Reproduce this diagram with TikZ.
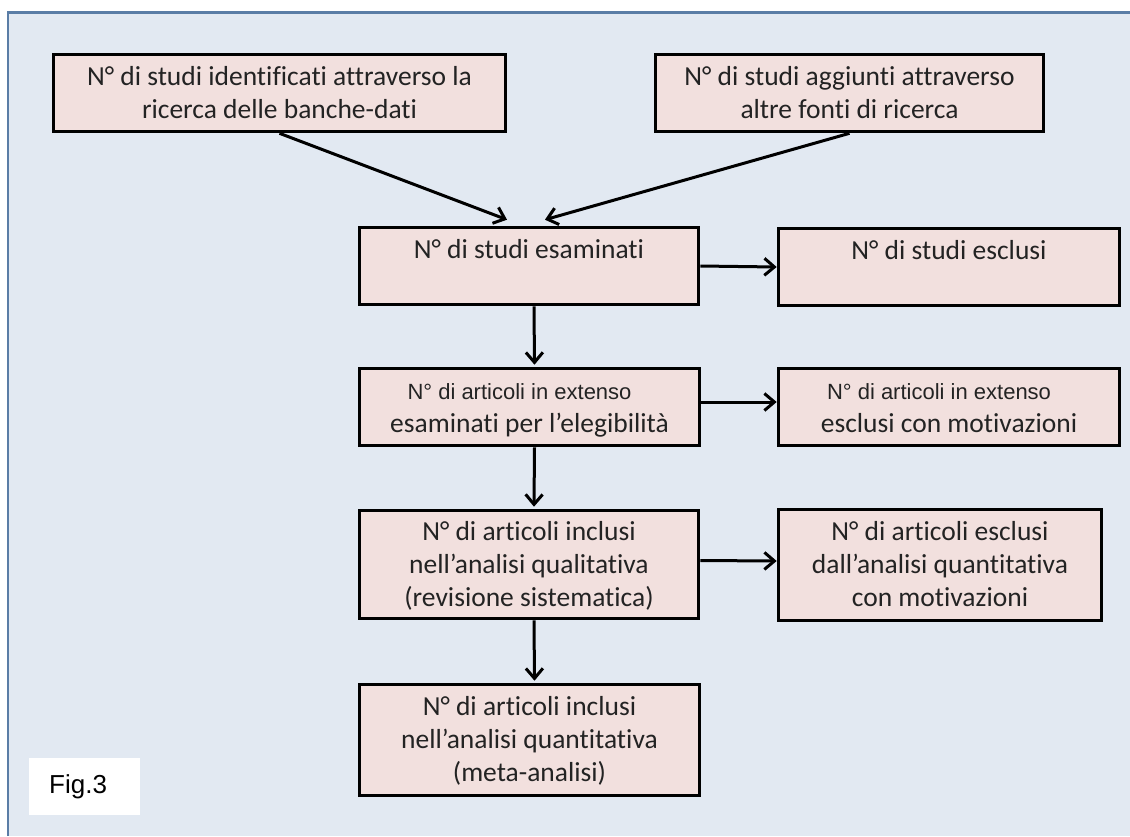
\documentclass[tikz,border=0pt]{standalone}
\usepackage{fontspec}
\setmainfont{Carlito}[Ligatures=NoCommon]
\newfontfamily\arialfont{Liberation Sans}
\usetikzlibrary{arrows.meta}
\definecolor{bgblue}{RGB}{226,233,242}
\definecolor{framecol}{RGB}{90,125,166}
\definecolor{boxfill}{RGB}{242,224,222}
\definecolor{txt}{RGB}{35,35,35}
\newcommand\mystrut{\rule[-8pt]{0pt}{33pt}}
\newcommand\arl[1]{{\arialfont\fontsize{22}{33}\selectfont #1}}
\tikzset{
  box/.style={draw=black, line width=3.6pt, fill=boxfill, inner sep=0pt,
    align=center, text=txt, font=\fontsize{27.5}{33}\selectfont},
  arr/.style={line width=3pt, -{Straight Barb[length=10pt,width=17pt]}},
}
\begin{document}
\begin{tikzpicture}[x=1pt,y=-1pt]
\useasboundingbox (0,0) rectangle (1130,836);
\fill[white] (0,0) rectangle (1130,836);
\fill[bgblue] (8,12) rectangle (1130,836);
\draw[framecol, line width=2.5pt] (8,836) -- (8,12.5) -- (1130,12.5);

\node[box, minimum width=452pt, minimum height=77pt] (b1) at (279.5,93)
  {\mystrut N° di studi identificati attraverso la\\\mystrut ricerca delle banche-dati};
\node[box, minimum width=388pt, minimum height=77pt] (b2) at (849.5,93)
  {\mystrut N° di studi aggiunti attraverso\\\mystrut altre fonti di ricerca};
\node[box, minimum width=339pt, minimum height=77pt] (b3) at (529,266)
  {\mystrut N° di studi esaminati\\\mystrut};
\node[box, minimum width=341pt, minimum height=77pt] (b4) at (949,267)
  {\mystrut N° di studi esclusi\\\mystrut};
\node[box, minimum width=340pt, minimum height=77pt] (b5) at (529.5,407)
  {\mystrut\arl{N° di articoli in extenso}\hspace*{20pt}\\\mystrut esaminati per l’elegibilità};
\node[box, minimum width=341pt, minimum height=77pt] (b6) at (949,407)
  {\mystrut\arl{N° di articoli in extenso}\hspace*{20pt}\\\mystrut esclusi con motivazioni};
\node[box, minimum width=339pt, minimum height=108pt] (b7) at (529,564.5)
  {\mystrut N° di articoli inclusi\\\mystrut nell’analisi qualitativa\\\mystrut (revisione sistematica)};
\node[box, minimum width=323pt, minimum height=111pt] (b8) at (940,565)
  {\mystrut N° di articoli esclusi\\\mystrut dall’analisi quantitativa\\\mystrut con motivazioni};
\node[box, minimum width=340pt, minimum height=111pt] (b9) at (529.5,740)
  {\mystrut N° di articoli inclusi\\\mystrut nell’analisi quantitativa\\\mystrut (meta-analisi)};

\coordinate (in1) at ([xshift=-22pt,yshift=6pt]b3.north);
\coordinate (in2) at ([xshift=16pt,yshift=6pt]b3.north);

\draw[arr] (b1.south) -- (in1);
\draw[arr] (b2.south) -- (in2);
\draw[arr] (b3.east) -- (b4.west);
\draw[arr] ([xshift=5pt]b3.south) -- ([xshift=5pt,yshift=2pt]b5.north);
\draw[arr] ([yshift=5pt]b5.east) -- ([yshift=5pt]b6.west);
\draw[arr] ([xshift=5pt]b5.south) -- ([xshift=5pt,yshift=2pt]b7.north);
\draw[arr] ([yshift=4pt]b7.east) -- ([yshift=4pt]b8.west);
\draw[arr] ([xshift=5pt]b7.south) -- ([xshift=5pt,yshift=2pt]b9.north);

\node[fill=white, anchor=west, minimum width=111pt, minimum height=57pt,
  inner xsep=20pt, inner ysep=0pt, text width=71pt, align=left,
  font=\arialfont\fontsize{26}{30}\selectfont, text=black] (fig) at (29,786.5) {Fig.3};
\end{tikzpicture}
\end{document}
